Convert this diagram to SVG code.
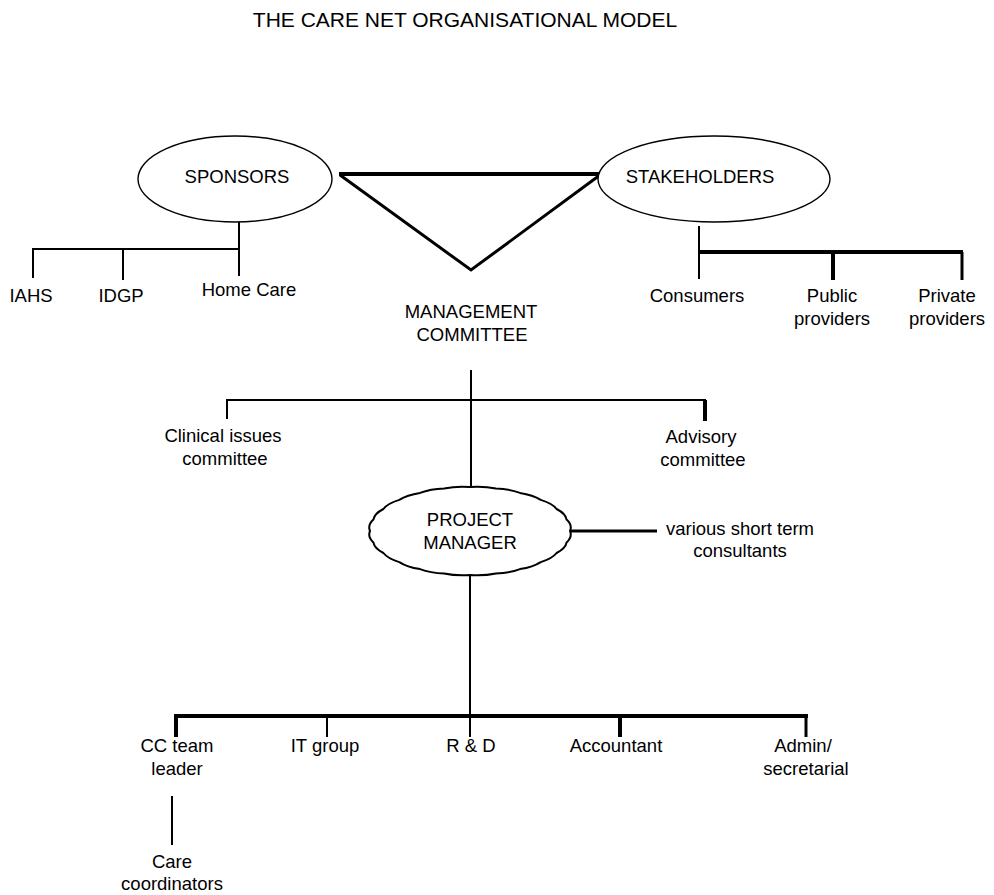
<svg xmlns="http://www.w3.org/2000/svg" width="994" height="895" viewBox="0 0 994 895">
<style>
text{font-family:"Liberation Sans",Arial,sans-serif;font-size:18.5px;fill:#000;text-anchor:middle}
.title{font-size:21px}
.l{stroke:#000;fill:none;stroke-linecap:butt}
.t2{stroke-width:2}
.t3{stroke-width:3}
.t4{stroke-width:4}
.ell{fill:#fff;stroke:#000;stroke-width:1.4}
</style>
<rect width="994" height="895" fill="#fff"/>
<text class="title" x="465" y="27">THE CARE NET ORGANISATIONAL MODEL</text>
<g id="connectors">
<path class="l t2" d="M239,222V276M32,249H240M33,249V278M123,249V280"/>
<path class="l t4" d="M339,174H601"/>
<path class="l t3" d="M340,175L471,270L600,175"/>
<path class="l t2" d="M699,226V279"/>
<path class="l t4" d="M699,252H963"/>
<path class="l t4" d="M833,252V280"/>
<path class="l t3" d="M962,252V280"/>
<path class="l t2" d="M471,370V487M226,400H706M227,400V419"/>
<path class="l t4" d="M705,400V421"/>
<path class="l t3" d="M570,531H657"/>
<path class="l t2" d="M470,575V716"/>
<path class="l t4" d="M174,716H808M176,716V737M620,716V737"/>
<path class="l t3" d="M806,716V737"/>
<path class="l t2" d="M327,716V737M470,716V737M172,796V845"/>
</g>
<g id="sponsors">
<ellipse class="ell" cx="235" cy="179" rx="97" ry="43"/>
<text x="237" y="183">SPONSORS</text>
</g>
<g id="stakeholders">
<ellipse class="ell" cx="714" cy="179" rx="116" ry="43"/>
<text x="700" y="183">STAKEHOLDERS</text>
</g>
<g id="iahs"><text x="31" y="302">IAHS</text></g>
<g id="idgp"><text x="121" y="302">IDGP</text></g>
<g id="homecare"><text x="249" y="296">Home Care</text></g>
<g id="management"><text x="471" y="318">MANAGEMENT</text><text x="472" y="341">COMMITTEE</text></g>
<g id="consumers"><text x="697" y="302">Consumers</text></g>
<g id="public"><text x="832" y="302">Public</text><text x="832" y="325">providers</text></g>
<g id="private"><text x="947" y="302">Private</text><text x="947" y="325">providers</text></g>
<g id="clinical"><text x="223" y="442">Clinical issues</text><text x="225" y="465">committee</text></g>
<g id="advisory"><text x="701" y="443">Advisory</text><text x="703" y="466">committee</text></g>
<g id="pm">
<path fill="#fff" stroke="#000" stroke-width="2" d="M570,531Q572.6,536.9 566.6,542.4Q565.6,548.4 556.6,553Q552.1,558.7 540.7,562.1Q533,567.1 520,569.1Q509.6,573 495.9,573.5Q483.5,576.1 470,575Q456.5,576.1 444.1,573.5Q430.4,573 420,569.1Q407,567.1 399.3,562.1Q387.9,558.7 383.4,553Q374.4,548.4 373.4,542.4Q367.4,536.9 370,531Q367.4,525.1 373.4,519.6Q374.4,513.6 383.4,509Q387.9,503.3 399.3,499.9Q407,494.9 420,492.9Q430.4,489 444.1,488.5Q456.5,485.9 470,487Q483.5,485.9 495.9,488.5Q509.6,489 520,492.9Q533,494.9 540.7,499.9Q552.1,503.3 556.6,509Q565.6,513.6 566.6,519.6Q572.6,525.1 570,531Z"/>
<text x="470" y="526">PROJECT</text><text x="470" y="549">MANAGER</text>
</g>
<g id="consultants"><text x="740" y="535">various short term</text><text x="740" y="557">consultants</text></g>
<g id="ccteam"><text x="177" y="752">CC team</text><text x="177" y="775">leader</text></g>
<g id="itgroup"><text x="325" y="752">IT group</text></g>
<g id="rd"><text x="471" y="752">R &amp; D</text></g>
<g id="accountant"><text x="616" y="752">Accountant</text></g>
<g id="admin"><text x="803" y="752">Admin/</text><text x="806" y="775">secretarial</text></g>
<g id="care"><text x="172" y="868">Care</text><text x="172" y="890">coordinators</text></g>
</svg>
